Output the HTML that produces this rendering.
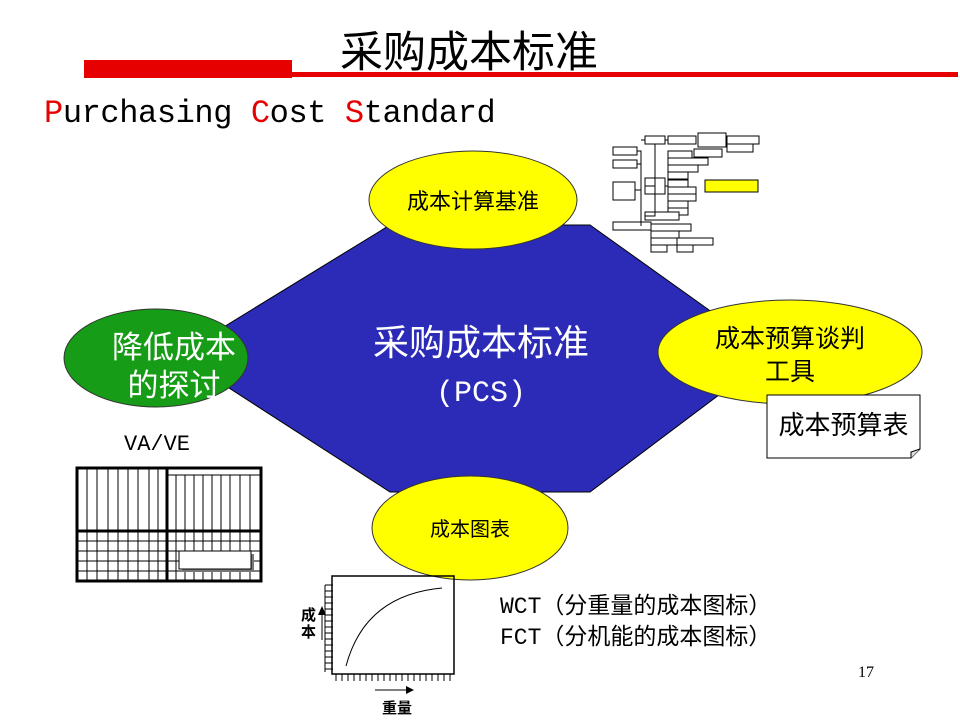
<!DOCTYPE html>
<html><head><meta charset="utf-8"><style>
body{margin:0;background:#fff;}
.w{position:relative;width:960px;height:720px;overflow:hidden;font-family:"Liberation Sans","Noto Sans CJK SC",sans-serif;}
.a{position:absolute;}
</style></head><body><div class="w">
<div class="a" style="left:84px;top:60px;width:208px;height:18px;background:#e60000"></div>
<div class="a" style="left:292px;top:72px;width:666px;height:5px;background:#e60000"></div>
<div class="a" style="left:340px;top:22px;font-size:43px;font-family:'Noto Sans CJK SC',sans-serif;line-height:54px">采购成本标准</div>
<div class="a" style="left:44px;top:95px;font-size:32px;font-family:'Liberation Mono',monospace;line-height:38px;letter-spacing:-0.4px"><span style="color:#e60000">P</span>urchasing <span style="color:#e60000">C</span>ost <span style="color:#e60000">S</span>tandard</div>

<svg class="a" style="left:0;top:0" width="960" height="720">
<polygon points="390,225 590,225 772,355 590,492 390,492 178,355" fill="#2b2bb8" stroke="#000" stroke-width="1"/>
<ellipse cx="473" cy="200" rx="104" ry="49" fill="#ffff00" stroke="#333"/>
<ellipse cx="156" cy="358" rx="92" ry="49" fill="#169c16" stroke="#333"/>
<ellipse cx="790" cy="352" rx="132" ry="52" fill="#ffff00" stroke="#333"/>
<ellipse cx="470" cy="528" rx="98" ry="52" fill="#ffff00" stroke="#333"/>
<path d="M767,395 H920 V449 L911,458 H767 Z" fill="#fff" stroke="#000"/>
<path d="M920,449 L911,452 L911,458" fill="#ddd" stroke="#000"/>
<g stroke="#000" fill="#fff" stroke-width="1">
<rect x="613" y="147" width="24" height="8"/><rect x="613" y="160" width="24" height="8"/><rect x="613" y="182" width="22" height="18"/>
<rect x="645" y="136" width="20" height="8"/><rect x="668" y="136" width="28" height="8"/><rect x="698" y="133" width="28" height="14"/><rect x="727" y="136" width="32" height="8"/>
<rect x="727" y="144" width="26" height="8"/><rect x="694" y="149" width="28" height="8"/>
<rect x="668" y="151" width="24" height="7"/><rect x="668" y="158" width="40" height="7"/><rect x="668" y="165" width="30" height="7"/><rect x="668" y="172" width="20" height="7"/>
<rect x="645" y="178" width="20" height="16"/>
<rect x="668" y="180" width="20" height="7"/><rect x="668" y="187" width="28" height="7"/><rect x="668" y="194" width="28" height="7"/><rect x="668" y="201" width="20" height="7"/><rect x="668" y="208" width="20" height="7"/>
<rect x="645" y="212" width="34" height="8"/>
<rect x="613" y="222" width="38" height="8"/><rect x="651" y="224" width="40" height="7"/><rect x="651" y="231" width="28" height="7"/><rect x="651" y="238" width="26" height="7"/><rect x="677" y="238" width="36" height="7"/><rect x="651" y="245" width="16" height="7"/><rect x="677" y="245" width="16" height="7"/>
<rect x="705" y="180" width="53" height="12" fill="#ffff00"/>
<path d="M637,151 H641 V226 M641,164 H637 M641,190 H635 M641,140 V140 H645 M655,144 V216 H645 M655,186 H645 M665,140 H668 M665,186 H668" fill="none"/>
</g>
<g stroke="#000" fill="none">
<rect x="77" y="468" width="184" height="113" stroke-width="3"/>
<line x1="77" y1="531" x2="261" y2="531" stroke-width="3"/>
<line x1="167" y1="468" x2="167" y2="581" stroke-width="3"/>
<line x1="167" y1="475" x2="261" y2="475"/>
<g stroke-width="1">
<line x1="87" y1="468" x2="87" y2="581"/><line x1="97" y1="468" x2="97" y2="581"/><line x1="108" y1="468" x2="108" y2="581"/><line x1="118" y1="468" x2="118" y2="581"/><line x1="128" y1="468" x2="128" y2="581"/><line x1="138" y1="468" x2="138" y2="581"/><line x1="149" y1="468" x2="149" y2="581"/><line x1="158" y1="468" x2="158" y2="581"/>
<line x1="176" y1="475" x2="176" y2="581"/><line x1="185" y1="475" x2="185" y2="581"/><line x1="194" y1="475" x2="194" y2="581"/><line x1="203" y1="475" x2="203" y2="581"/><line x1="212" y1="475" x2="212" y2="581"/><line x1="221" y1="475" x2="221" y2="581"/><line x1="230" y1="475" x2="230" y2="581"/><line x1="240" y1="475" x2="240" y2="581"/><line x1="250" y1="475" x2="250" y2="581"/>
<line x1="77" y1="541" x2="261" y2="541"/><line x1="77" y1="551" x2="261" y2="551"/><line x1="77" y1="561" x2="261" y2="561"/><line x1="77" y1="571" x2="261" y2="571"/>
</g>
<rect x="182" y="554" width="72" height="18" fill="#777" stroke="none"/>
<rect x="179" y="551" width="72" height="18" fill="#fff"/>
</g>
<g stroke="#000" fill="none">
<rect x="332" y="576" width="122" height="98" stroke-width="1.5"/>
<path d="M346,666 Q365,595 442,588" stroke-width="1"/>
<path d="M325,585 V672 M325,585 H333 M325,591 H333 M325,597 H333 M325,603 H333 M325,609 H333 M325,615 H333 M325,621 H333 M325,627 H333 M325,633 H333 M325,639 H333 M325,645 H333 M325,651 H333 M325,657 H333 M325,663 H333 M325,669 H333"/>
<path d="M336,674 V681 M342,674 V681 M348,674 V681 M354,674 V681 M360,674 V681 M366,674 V681 M372,674 V681 M378,674 V681 M384,674 V681 M390,674 V681 M396,674 V681 M402,674 V681 M408,674 V681 M414,674 V681 M420,674 V681 M426,674 V681 M432,674 V681 M438,674 V681 M444,674 V681 M450,674 V681"/>
<line x1="322" y1="640" x2="322" y2="613"/>
<line x1="375" y1="690" x2="408" y2="690"/>
</g>
<polygon points="318,615 326,615 322,606" fill="#000"/>
<polygon points="406,686 406,694 414,690" fill="#000"/>
</svg>

<div class="a" style="left:369px;top:185px;width:208px;text-align:center;font-size:22px;line-height:30px;font-family:'Noto Sans CJK SC',sans-serif">成本计算基准</div>
<div class="a" style="left:82px;top:326px;width:184px;text-align:center;font-size:31px;line-height:38px;color:#fff;font-family:'Noto Sans CJK SC',sans-serif">降低成本<br>的探讨</div>
<div class="a" style="left:658px;top:321px;width:264px;text-align:center;font-size:25px;line-height:33px;font-family:'Noto Sans CJK SC',sans-serif">成本预算谈判<br>工具</div>
<div class="a" style="left:767px;top:407px;width:153px;text-align:center;font-size:26px;line-height:34px;font-family:'Noto Sans CJK SC',sans-serif">成本预算表</div>
<div class="a" style="left:372px;top:513px;width:196px;text-align:center;font-size:20px;line-height:30px;font-family:'Noto Sans CJK SC',sans-serif">成本图表</div>
<div class="a" style="left:330px;top:317px;width:302px;text-align:center;font-size:36px;line-height:46px;color:#fff;font-family:'Noto Sans CJK SC',sans-serif">采购成本标准<br><span style="font-family:'Liberation Mono',monospace;font-size:30px">(PCS)</span></div>
<div class="a" style="left:124px;top:432px;font-size:22px;font-family:'Liberation Mono',monospace">VA/VE</div>
<div class="a" style="left:500px;top:592px;font-size:23px;line-height:31px;font-family:'Liberation Mono','Noto Sans CJK SC',monospace">WCT（分重量的成本图标）<br>FCT（分机能的成本图标）</div>
<div class="a" style="left:301px;top:606px;font-size:15px;line-height:17px;font-weight:bold;font-family:'Noto Sans CJK SC',sans-serif">成<br>本</div>
<div class="a" style="left:382px;top:697px;font-size:15px;font-weight:bold;font-family:'Noto Sans CJK SC',sans-serif">重量</div>
<div class="a" style="left:858px;top:664px;font-size:16px;font-family:'Liberation Serif',serif">17</div>
</div></body></html>
